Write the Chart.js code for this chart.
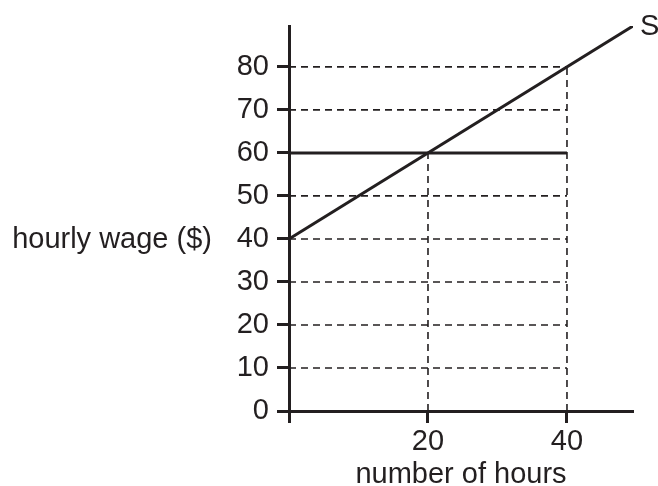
<!DOCTYPE html>
<html lang="en">
<head>
    <meta charset="UTF-8">
    <title>Hourly wage vs number of hours</title>
    <style>
        body {
            margin: 0;
            background-color: #fff;
        }
        canvas {
            display: block;
        }
    </style>
    <script src="https://cdn.jsdelivr.net/npm/chart.js"></script>
</head>
<body>
<canvas id="wageChart" width="658" height="486"></canvas>

<script>
    // Supply line S
    const supplyHours = [0, 49.5];
    const supplyWage = [40, 89.5];

    // Horizontal wage line at $60
    const wageLineHours = [0, 40];
    const wageLineLevel = 60;

    // Dashed guides
    const guideWages = [10, 20, 30, 40, 50, 70, 80];
    const guideWageEnd = 40;
    const guideHours = [20, 40];
    const guideHourTops = [60, 80];

    // Axes
    const yTickValues = [0, 10, 20, 30, 40, 50, 60, 70, 80];
    const xTickValues = [0, 20, 40];
    const xTickLabels = ['', '20', '40'];
    const xMax = 49.5;
    const yMax = 89.5;

    const ink = '#231f20';
    const fontFamily = "'Liberation Sans', Arial, sans-serif";
    const fontSize = 29;

    const datasets = [];

    // Solid lines on top
    datasets.push({
        label: 'S',
        data: supplyHours.map((h, i) => ({x: h, y: supplyWage[i]})),
        borderColor: ink,
        borderWidth: 3,
        order: 0
    });
    datasets.push({
        label: 'wage',
        data: wageLineHours.map(h => ({x: h, y: wageLineLevel})),
        borderColor: ink,
        borderWidth: 3,
        order: 0
    });

    guideWages.forEach(w => {
        datasets.push({
            label: 'guide',
            data: [{x: 0, y: w}, {x: guideWageEnd, y: w}],
            borderColor: ink,
            borderWidth: 1.6,
            borderDash: [7, 5],
            order: 1
        });
    });
    guideHours.forEach((h, i) => {
        datasets.push({
            label: 'guide',
            data: [{x: h, y: 0}, {x: h, y: guideHourTops[i]}],
            borderColor: ink,
            borderWidth: 1.6,
            borderDash: [7, 5],
            order: 1
        });
    });

    // Draws the S label and the horizontal y-axis title
    const labelPlugin = {
        id: 'labels',
        afterDraw(chart) {
            const ctx = chart.ctx;
            const xs = chart.scales.x;
            const ys = chart.scales.y;
            ctx.save();
            ctx.fillStyle = ink;
            ctx.font = fontSize + 'px ' + fontFamily;
            ctx.textBaseline = 'middle';

            const last = supplyHours.length - 1;
            ctx.textAlign = 'left';
            ctx.fillText('S', xs.getPixelForValue(supplyHours[last]) + 7, ys.getPixelForValue(supplyWage[last]) + 1);

            ctx.textAlign = 'right';
            ctx.fillText('hourly wage ($)', 212, ys.getPixelForValue(40) + 1);
            ctx.restore();
        }
    };

    new Chart(document.getElementById('wageChart'), {
        type: 'scatter',
        data: {datasets: datasets},
        options: {
            responsive: false,
            animation: false,
            showLine: true,
            elements: {
                point: {radius: 0, hoverRadius: 0},
                line: {tension: 0, borderCapStyle: 'butt'}
            },
            layout: {
                padding: {left: 209, right: 25, top: 26, bottom: 0}
            },
            plugins: {
                legend: {display: false},
                tooltip: {enabled: false}
            },
            scales: {
                x: {
                    type: 'linear',
                    position: 'bottom',
                    min: 0,
                    max: xMax,
                    afterBuildTicks: s => { s.ticks = xTickValues.map(v => ({value: v})); },
                    afterFit: s => { s.height = 75; },
                    border: {display: true, color: ink, width: 3},
                    grid: {drawOnChartArea: false, tickLength: 12, tickWidth: 3, tickColor: ink},
                    ticks: {
                        color: ink,
                        padding: 2,
                        maxRotation: 0,
                        font: {family: fontFamily, size: fontSize},
                        callback: (v, i) => xTickLabels[i]
                    },
                    title: {
                        display: true,
                        text: 'number of hours',
                        color: ink,
                        font: {family: fontFamily, size: fontSize},
                        padding: {top: 0, bottom: -6}
                    }
                },
                y: {
                    type: 'linear',
                    min: 0,
                    max: yMax,
                    afterBuildTicks: s => { s.ticks = yTickValues.map(v => ({value: v})); },
                    afterFit: s => { s.width = 80; },
                    border: {display: true, color: ink, width: 3},
                    grid: {drawOnChartArea: false, tickLength: 12, tickWidth: 3, tickColor: ink},
                    ticks: {
                        color: ink,
                        padding: 8,
                        font: {family: fontFamily, size: fontSize}
                    }
                }
            }
        },
        plugins: [labelPlugin]
    });
</script>
</body>
</html>
